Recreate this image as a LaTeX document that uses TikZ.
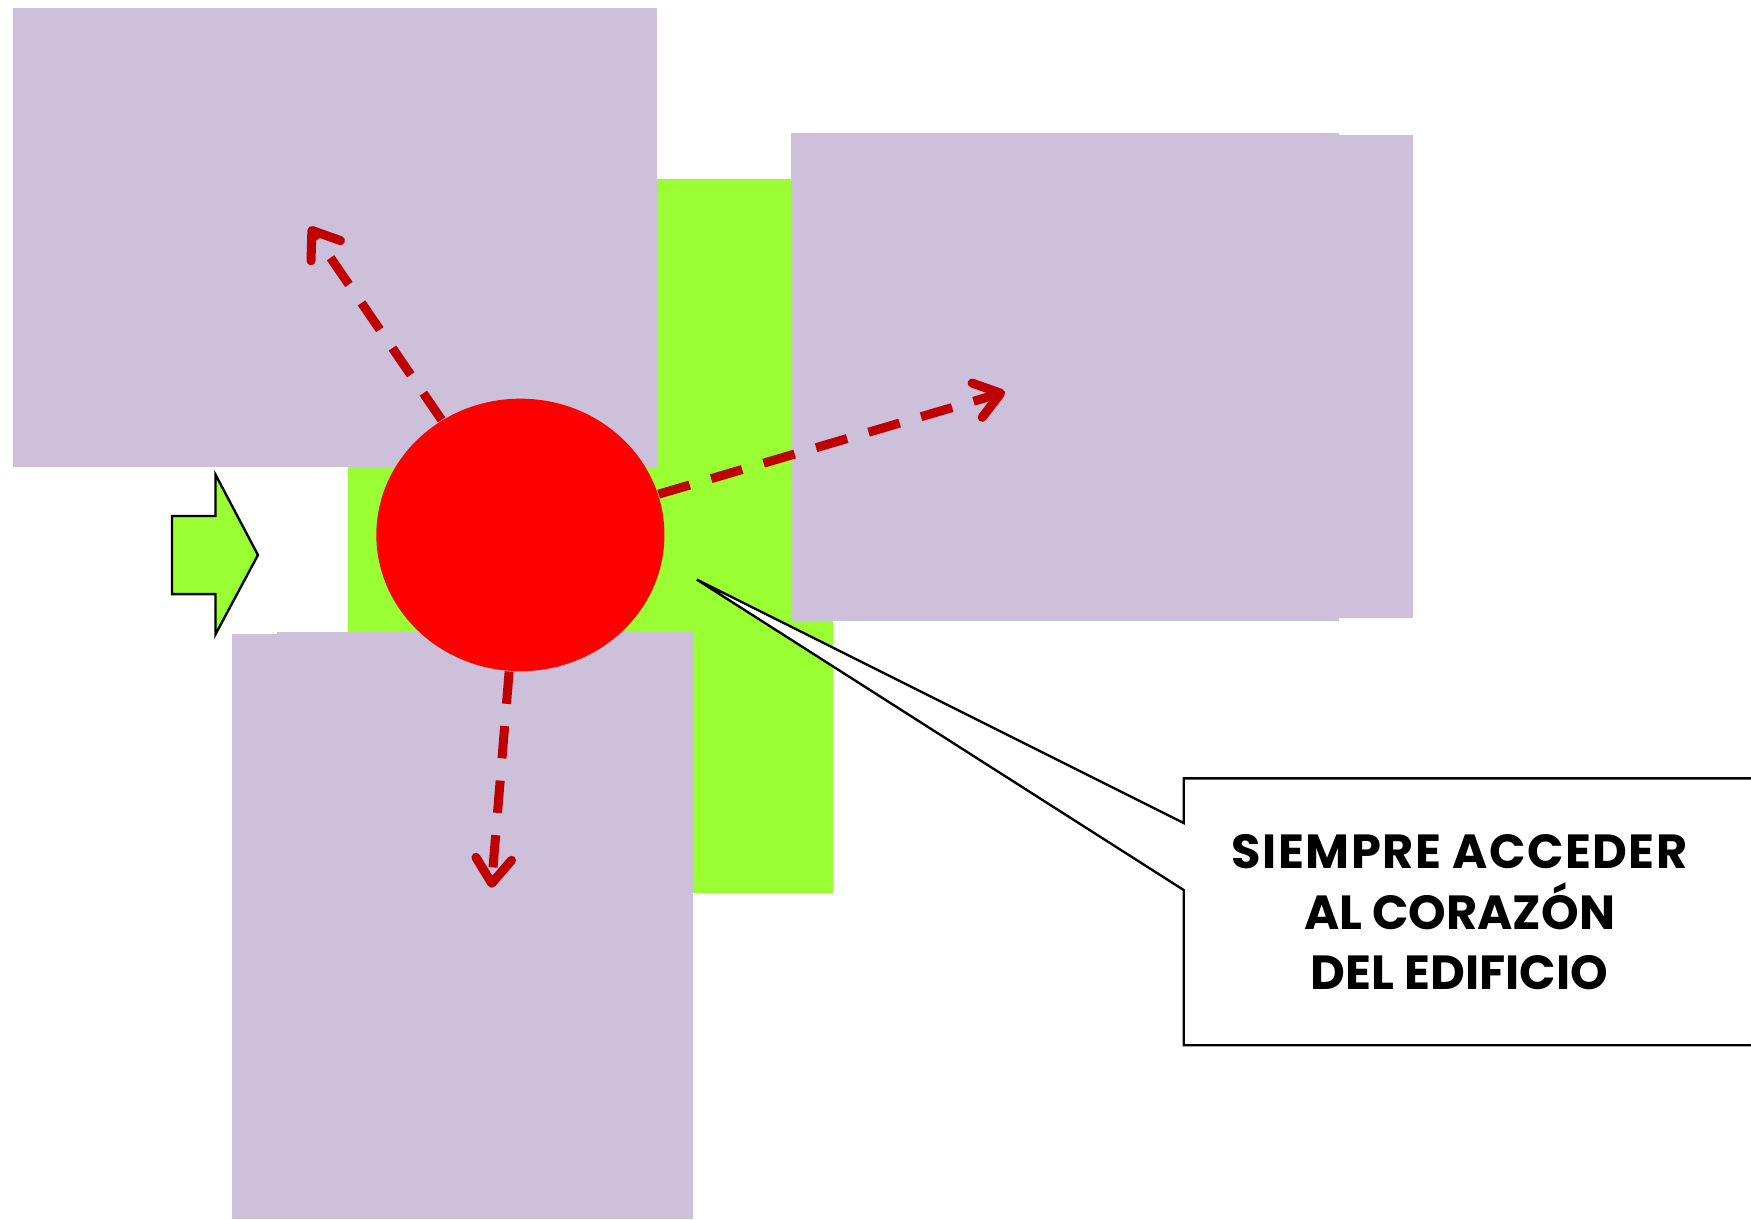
\documentclass[tikz,border=0pt]{standalone}
\usepackage{fontspec}
\usepackage{tikz}
\usetikzlibrary{shapes.geometric,arrows.meta}
\newfontfamily\notefont{Poppins}
\definecolor{lila}{RGB}{204,192,218}
\definecolor{verde}{RGB}{153,255,51}
\definecolor{rojo}{RGB}{255,0,0}
\definecolor{granate}{RGB}{192,0,0}
\newcommand{\bloque}[2]{\fill[lila] (#1) rectangle (#2);}

\begin{document}
\begin{tikzpicture}[x=0.1mm,y=-0.1mm,
  ruta/.style={granate,line width=2.3pt,dash pattern=on 2.9mm off 2mm,
    -{Straight Barb[length=2.2mm,width=3.2mm,round]}}]
  \clip (0,0) rectangle (1568,1092);
  \fill[verde] (312,160) rectangle (746,800);
  \bloque{12,7}{588,418}
  \bloque{708,119}{1199,556}
  \bloque{1199,121}{1265,553}
  \bloque{208,568}{621,1092}
  \bloque{248,566}{621,1092}
  \node[ellipse,fill=rojo,minimum width=25.8mm,minimum height=24.4mm,inner sep=0] (core) at (466,479) {};
  \coordinate (nw) at (277,203);
  \coordinate (ea) at (900,351);
  \coordinate (so) at (440,795);
  \draw[ruta] (core) -- (nw);
  \draw[ruta] (core) -- (ea);
  \draw[ruta] (core) -- (so);
  \draw[semithick,fill=verde] (154,462) -- (193,462) -- (193,425) -- (231,497) -- (193,568) -- (193,532) -- (154,532) -- cycle;
  \coordinate (tip) at (624,519);
  \draw[semithick,fill=white] (1580,697) -- (1060,697) -- (1060,737) -- (tip) -- (1060,797) -- (1060,936) -- (1580,936);
  \node[font=\notefont\bfseries\fontsize{12.2}{15.4}\selectfont,align=center] (note) at (1307,817)
    {{\addfontfeature{LetterSpace=3}SIEMPRE ACCEDER}\\AL CORAZÓN\\DEL EDIFICIO};
\end{tikzpicture}
\end{document}
